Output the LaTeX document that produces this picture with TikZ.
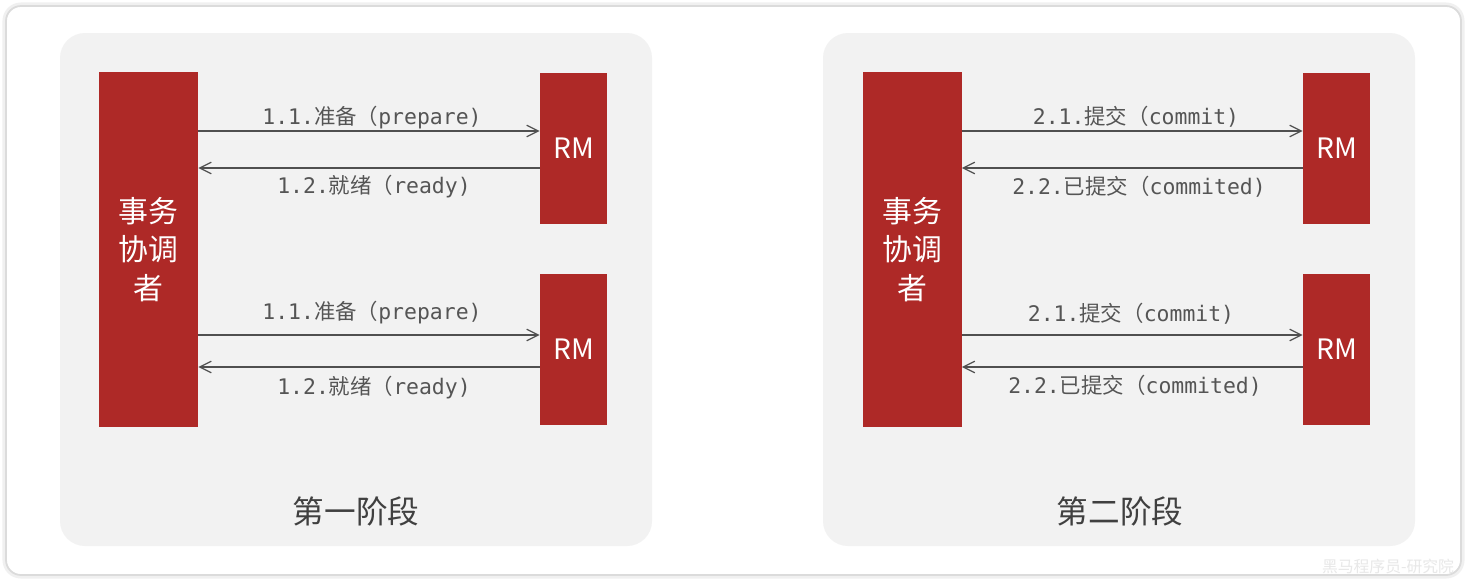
\documentclass[tikz,border=0pt]{standalone}
\usepackage{fontspec}
\setmonofont{DejaVu Sans Mono}
\newfontfamily\cjk{Noto Sans CJK SC}
\usetikzlibrary{arrows.meta}
\definecolor{tcred}{RGB}{174,41,39}
\definecolor{panelgray}{RGB}{242,242,242}
\definecolor{arrowgray}{RGB}{80,80,80}
\definecolor{textgray}{RGB}{85,85,85}
\definecolor{stagegray}{RGB}{64,64,64}
\begin{document}
\begin{tikzpicture}[x=0.02cm,y=-0.02cm,
	tcbox/.style={fill=tcred, inner sep=0, minimum width=1.98cm, minimum height=7.1cm,
		text=white, align=center, font=\cjk\fontsize{17}{22}\selectfont},
	rmbox/.style={fill=tcred, inner sep=0, minimum width=1.34cm, minimum height=3.04cm,
		text=white, font=\cjk\fontsize{16}{19}\selectfont},
	msg/.style={draw=arrowgray, line width=0.7pt, -{Straight Barb[length=6.6pt,width=6.6pt]}},
	lbl/.style={text=textgray, inner sep=0, font=\ttfamily\fontsize{12.2}{14}\selectfont},
	stage/.style={text=stagegray, font=\cjk\fontsize{18}{22}\selectfont}]
	\useasboundingbox (0,0) rectangle (1467,583);
	% card with soft shadow
	\fill[white] (0,0) rectangle (1467,583);
	\draw[black!6, line width=4pt, rounded corners=0.3cm] (6,6) rectangle (1461,575);
	\draw[black!14, line width=1pt, fill=white, rounded corners=0.3cm] (6,6) rectangle (1461,575);
	% panels
	\fill[panelgray, rounded corners=0.5cm] (60,33) rectangle (652,546);
	\fill[panelgray, rounded corners=0.5cm] (823,33) rectangle (1415,546);
	% first phase
	\node[tcbox] (tc1) at (148.5,249.5) {事务\\协调\\者};
	\node[rmbox] (rm11) at (573.5,148.5) {RM};
	\node[rmbox] (rm12) at (573.5,349.5) {RM};
	\draw[msg] (tc1.east |- 0,131) -- (rm11.west |- 0,131);
	\draw[msg] (rm11.west |- 0,168) -- (tc1.east |- 0,168);
	\draw[msg] (tc1.east |- 0,335) -- (rm12.west |- 0,335);
	\draw[msg] (rm12.west |- 0,367) -- (tc1.east |- 0,367);
	\node[lbl] (p11) at (372,118) {1.1.{\cjk 准备（}prepare)};
	\node[lbl] (r11) at (374,187) {1.2.{\cjk 就绪（}ready)};
	\node[lbl] (p12) at (372,313) {1.1.{\cjk 准备（}prepare)};
	\node[lbl] (r12) at (374,388) {1.2.{\cjk 就绪（}ready)};
	\node[stage] (s1) at (356,511) {第一阶段};
	% second phase
	\node[tcbox] (tc2) at (912,249.5) {事务\\协调\\者};
	\node[rmbox] (rm21) at (1336.5,148.5) {RM};
	\node[rmbox] (rm22) at (1336.5,349.5) {RM};
	\draw[msg] (tc2.east |- 0,131) -- (rm21.west |- 0,131);
	\draw[msg] (rm21.west |- 0,168) -- (tc2.east |- 0,168);
	\draw[msg] (tc2.east |- 0,335) -- (rm22.west |- 0,335);
	\draw[msg] (rm22.west |- 0,367) -- (tc2.east |- 0,367);
	\node[lbl] (c21) at (1136,117) {2.1.{\cjk 提交（}commit)};
	\node[lbl] (d21) at (1139,187) {2.2.{\cjk 已提交（}commited)};
	\node[lbl] (c22) at (1131,314) {2.1.{\cjk 提交（}commit)};
	\node[lbl] (d22) at (1135,386) {2.2.{\cjk 已提交（}commited)};
	\node[stage] (s2) at (1120,511) {第二阶段};
	% watermark
	\node[text=black!9, font=\cjk\fontsize{9}{11}\selectfont] (wm) at (1388,566) {黑马程序员-研究院};
\end{tikzpicture}
\end{document}
